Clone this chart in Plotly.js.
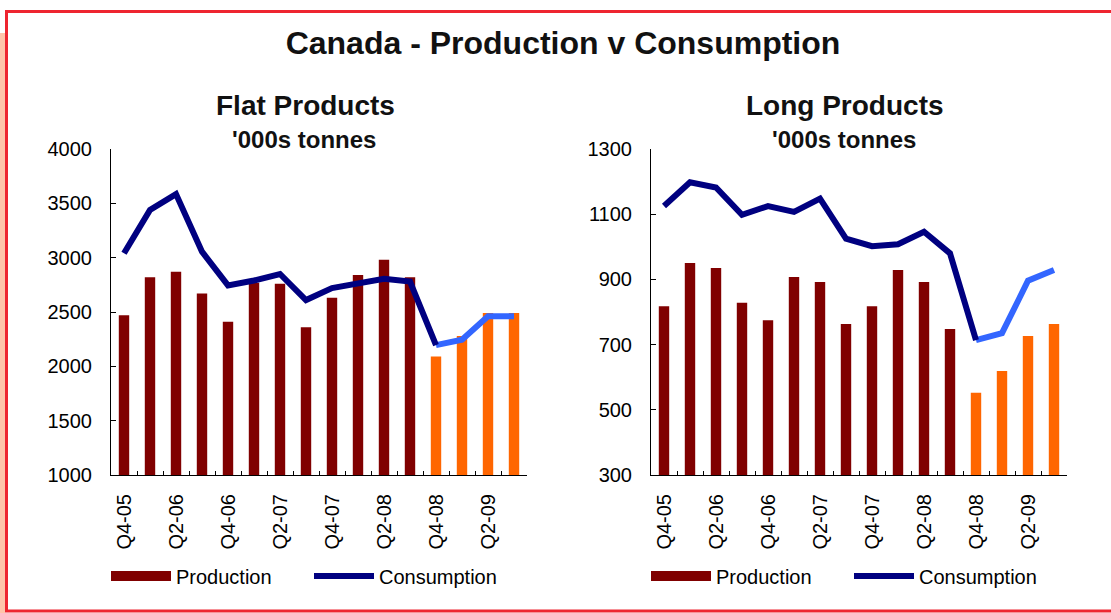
<!DOCTYPE html>
<html>
<head>
<meta charset="utf-8">
<script src="https://cdn.plot.ly/plotly-3.0.1.min.js"></script>
<style>
html,body{margin:0;padding:0;background:#fff;}
#chart{width:1111px;height:613px;}
</style>
</head>
<body>
<div id="chart"></div>
<script>
// ---- data ----
const quarters = ['Q4-05','Q1-06','Q2-06','Q3-06','Q4-06','Q1-07','Q2-07','Q3-07','Q4-07','Q1-08','Q2-08','Q3-08','Q4-08','Q1-09','Q2-09','Q3-09'];
const flatProduction  = [2470,2820,2870,2670,2410,2770,2760,2360,2630,2840,2980,2820,2090,2280,2490,2490];
const flatConsumption = [3040,3440,3585,3055,2745,2790,2850,2610,2720,2765,2805,2780,2195,2245,2460,2460];
const longProduction  = [818,950,935,828,775,907,892,763,818,929,892,748,552,619,726,763];
const longConsumption = [1125,1198,1182,1098,1125,1107,1148,1025,1002,1008,1046,980,714,735,896,929];
const firstForecast = 12; // index of Q4-08: forecast starts here
const tickLabels = quarters.filter((q, i) => i % 2 === 0);

// ---- styles ----
const FONT = 'Liberation Sans, Arial, sans-serif';
const DARKRED = '#800000', ORANGE = '#FF6600', NAVY = '#000080', LIGHTBLUE = '#3366FF';
const W = 1111, H = 613;
const px = v => v / W, py = v => 1 - v / H;

const barColors = quarters.map((q, i) => i < firstForecast ? DARKRED : ORANGE);

function panelTraces(prod, cons, xa, xl, ya, leg) {
  return [
    {type: 'bar', x: quarters, y: prod, xaxis: xa, yaxis: ya,
     marker: {color: barColors}, showlegend: false, hoverinfo: 'x+y'},
    {type: 'scatter', mode: 'lines', x: quarters.slice(firstForecast), y: cons.slice(firstForecast),
     xaxis: xl, yaxis: ya, line: {color: LIGHTBLUE, width: 6}, showlegend: false},
    {type: 'scatter', mode: 'lines', x: [null], y: [null], xaxis: xl, yaxis: ya,
     name: 'Production', legend: leg, line: {color: DARKRED, width: 16}},
    {type: 'scatter', mode: 'lines', x: quarters.slice(0, firstForecast + 1), y: cons.slice(0, firstForecast + 1),
     xaxis: xl, yaxis: ya, name: 'Consumption', legend: leg, line: {color: NAVY, width: 6}}
  ];
}

const traces = [
  ...panelTraces(flatProduction, flatConsumption, 'x', 'x3', 'y', 'legend'),
  ...panelTraces(longProduction, longConsumption, 'x2', 'x4', 'y2', 'legend2')
];

const dom1 = [px(111), px(527)], dom2 = [px(651), px(1067)];
const ydom = [py(475), py(149)];

function baseX(domain, anchor) {
  return {domain: domain, anchor: anchor, type: 'category', categoryorder: 'array', categoryarray: quarters,
    range: [-0.5, 15.5], showline: true, linecolor: '#000', linewidth: 1, ticks: 'inside', ticklen: 4,
    tickcolor: '#000', tickson: 'boundaries', showticklabels: false, showgrid: false, zeroline: false, fixedrange: true};
}
function labelX(over, anchor) {
  return {overlaying: over, anchor: anchor, type: 'category', categoryorder: 'array', categoryarray: quarters,
    range: [-0.5, 15.5], showline: false, ticks: '', tickvals: tickLabels, ticktext: tickLabels,
    tickangle: -90, tickfont: {family: FONT, size: 20, color: '#000'}, ticklabelstandoff: 14,
    showgrid: false, zeroline: false, fixedrange: true};
}
function yAx(anchor, range, dtick) {
  return {domain: ydom, anchor: anchor, range: range, dtick: dtick, tick0: range[0], showline: true,
    linecolor: '#000', linewidth: 1, ticks: 'inside', ticklen: 5, tickcolor: '#000', showgrid: false,
    zeroline: false, tickfont: {family: FONT, size: 20, color: '#000'}, ticklabelstandoff: 14, fixedrange: true};
}
function legendAt(x) {
  return {orientation: 'h', x: x, xanchor: 'left', y: py(576), yanchor: 'middle',
    font: {family: FONT, size: 20, color: '#000'}, bgcolor: 'rgba(0,0,0,0)',
    itemwidth: 60, entrywidth: 128, entrywidthmode: 'pixels', itemclick: false, itemdoubleclick: false};
}

const layout = {
  width: W, height: H,
  margin: {l: 0, r: 0, t: 0, b: 0, autoexpand: false},
  paper_bgcolor: '#fff', plot_bgcolor: 'rgba(0,0,0,0)',
  font: {family: FONT, color: '#000'},
  bargap: 0.6,
  title: {text: '<b>Canada - Production v Consumption</b>', font: {family: FONT, size: 32, color: '#111'},
          x: px(563), xanchor: 'center', y: py(43), yanchor: 'middle', xref: 'paper', yref: 'paper'},
  xaxis: baseX(dom1, 'y'),
  xaxis2: baseX(dom2, 'y2'),
  xaxis3: labelX('x', 'y'),
  xaxis4: labelX('x2', 'y2'),
  yaxis: yAx('x', [1000, 4000], 500),
  yaxis2: yAx('x2', [300, 1300], 200),
  legend: legendAt(px(106)),
  legend2: legendAt(px(646)),
  annotations: [
    {text: '<b>Flat Products</b>', x: px(305), y: py(105), xref: 'paper', yref: 'paper', showarrow: false,
     xanchor: 'center', yanchor: 'middle', font: {family: FONT, size: 28, color: '#111'}},
    {text: "<b>'000s tonnes</b>", x: px(304), y: py(140), xref: 'paper', yref: 'paper', showarrow: false,
     xanchor: 'center', yanchor: 'middle', font: {family: FONT, size: 24, color: '#111'}},
    {text: '<b>Long Products</b>', x: px(845), y: py(105), xref: 'paper', yref: 'paper', showarrow: false,
     xanchor: 'center', yanchor: 'middle', font: {family: FONT, size: 28, color: '#111'}},
    {text: "<b>'000s tonnes</b>", x: px(844), y: py(140), xref: 'paper', yref: 'paper', showarrow: false,
     xanchor: 'center', yanchor: 'middle', font: {family: FONT, size: 24, color: '#111'}}
  ],
  shapes: [
    {type: 'rect', xref: 'paper', yref: 'paper', x0: 0, x1: px(5), y0: 0, y1: py(33),
     fillcolor: '#FFC4AA', line: {width: 0}, layer: 'below'},
    {type: 'rect', xref: 'paper', yref: 'paper', x0: px(6.5), x1: px(1125), y0: py(611), y1: py(11.5),
     fillcolor: 'rgba(0,0,0,0)', line: {color: '#EE2530', width: 3}, layer: 'below'}
  ]
};

Plotly.newPlot('chart', traces, layout, {displayModeBar: false, staticPlot: true});
</script>
</body>
</html>
